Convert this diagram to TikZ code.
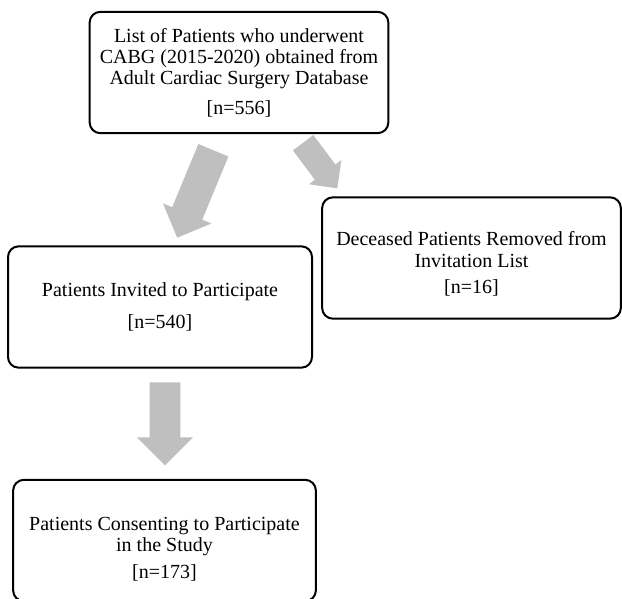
\documentclass[tikz,border=0pt]{standalone}
\usepackage{fontspec}
\setmainfont{Liberation Serif}
\usetikzlibrary{shapes.arrows}

\definecolor{arrowgray}{RGB}{191,191,191}

\tikzset{
	box/.style={draw, line width=1.5pt, rounded corners=8pt, align=center,
		minimum width=224pt, minimum height=91pt, inner sep=0pt,
		font=\fontsize{15}{16}\selectfont},
	blockarrow/.style={single arrow, fill=arrowgray, draw=none, inner xsep=0pt,
		minimum width=0pt, single arrow tip angle=90, anchor=tail}
}

\begin{document}
\begin{tikzpicture}[x=0.75pt,y=-0.75pt]
			\useasboundingbox (0,0) rectangle (622,599);

			% boxes
			\node[box] (cabg) at (239,72.5) {List of Patients who underwent\\CABG (2015-2020) obtained from\\Adult Cardiac Surgery Database\\[6pt][n=556]};
			\node[box, minimum width=228pt] (invited) at (160,307) {Patients Invited to Participate\\[8pt][n=540]};
			\node[box] (deceased) at (471.5,258) {\rule{0pt}{20pt}Deceased Patients Removed from\\Invitation List\\[4pt][n=16]};
			\node[box, minimum width=227pt] (consent) at (164.5,540.5) {\rule{0pt}{23pt}Patients Consenting to Participate\\in the Study\\[4pt][n=173]};

			% block arrows
			\node[blockarrow, rotate=247.5, minimum height=71pt, inner ysep=12pt, single arrow head extend=7.5pt] (toinvited) at (213.5,150) {};
			\node[blockarrow, rotate=-53.2, minimum height=42.75pt, inner ysep=9.4pt, single arrow head extend=5.6pt] (todeceased) at (303,142.5) {};
			\node[blockarrow, rotate=-90, minimum height=62.25pt, inner ysep=11.25pt, single arrow head extend=9.4pt] (toconsent) at (165,382) {};
		\end{tikzpicture}
\end{document}
